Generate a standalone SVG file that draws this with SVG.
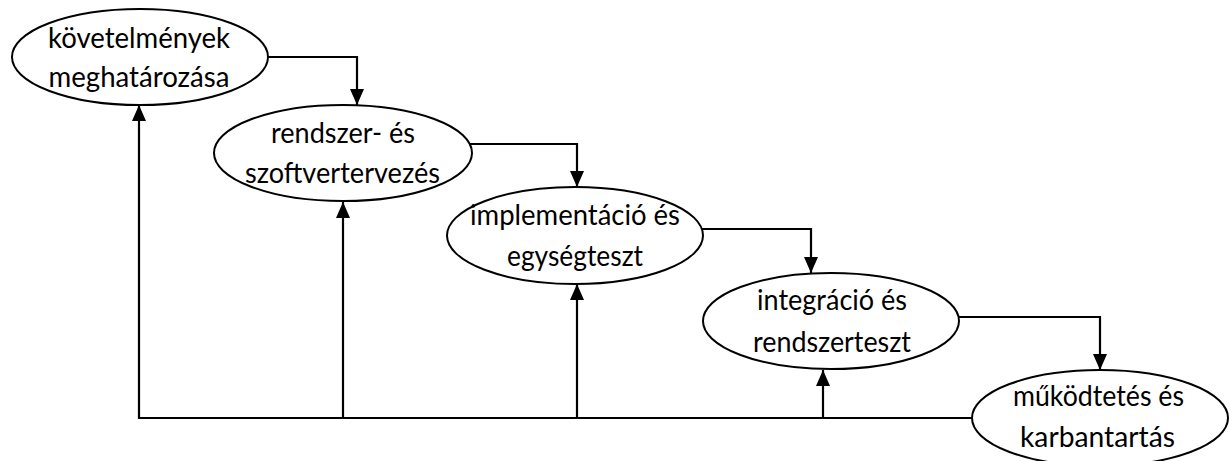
<svg xmlns="http://www.w3.org/2000/svg" width="1230" height="461" viewBox="0 0 1230 461">
<style>
.node ellipse{fill:#ffffff;stroke:#000000;stroke-width:2}
.node text{font-family:Lato,"Open Sans","Liberation Sans",sans-serif;font-size:29px;fill:#000000;text-anchor:middle}
.conn path{fill:none;stroke:#000000;stroke-width:2.2}
</style>
<defs>
<marker id="arr" markerUnits="userSpaceOnUse" markerWidth="16" markerHeight="14" refX="16" refY="7" orient="auto">
<path d="M0,0 L16,7 L0,14 z" fill="#000000"/>
</marker>
</defs>
<g id="connectors" class="conn">
<path d="M268,57 H357 V105" marker-end="url(#arr)"/>
<path d="M469,144 H577 V187" marker-end="url(#arr)"/>
<path d="M701,229 H811 V273" marker-end="url(#arr)"/>
<path d="M958,317 H1100 V370" marker-end="url(#arr)"/>
<path d="M972,418 H139 V105" marker-end="url(#arr)"/>
<path d="M343,418 V202" marker-end="url(#arr)"/>
<path d="M577,418 V284" marker-end="url(#arr)"/>
<path d="M823,418 V370" marker-end="url(#arr)"/>
</g>
<g id="node1" class="node">
<ellipse cx="140" cy="57" rx="128" ry="48"/>
<text x="139" y="48" textLength="182" lengthAdjust="spacingAndGlyphs">követelmények</text>
<text x="139" y="87" textLength="181" lengthAdjust="spacingAndGlyphs">meghatározása</text>
</g>
<g id="node2" class="node">
<ellipse cx="343" cy="153" rx="129" ry="48"/>
<text x="343" y="143" textLength="144" lengthAdjust="spacingAndGlyphs">rendszer- és</text>
<text x="342.5" y="183" textLength="195" lengthAdjust="spacingAndGlyphs">szoftvertervezés</text>
</g>
<g id="node3" class="node">
<ellipse cx="575" cy="235.5" rx="128" ry="48.5"/>
<text x="575" y="225" textLength="210" lengthAdjust="spacingAndGlyphs">implementáció és</text>
<text x="575" y="266" textLength="136" lengthAdjust="spacingAndGlyphs">egységteszt</text>
</g>
<g id="node4" class="node">
<ellipse cx="831" cy="321" rx="128" ry="48"/>
<text x="832" y="310" textLength="150" lengthAdjust="spacingAndGlyphs">integráció és</text>
<text x="832" y="352" textLength="158" lengthAdjust="spacingAndGlyphs">rendszerteszt</text>
</g>
<g id="node5" class="node">
<ellipse cx="1100" cy="418" rx="128" ry="48"/>
<text x="1098.5" y="406" textLength="171" lengthAdjust="spacingAndGlyphs">működtetés és</text>
<text x="1097.5" y="447" textLength="155" lengthAdjust="spacingAndGlyphs">karbantartás</text>
</g>
</svg>
